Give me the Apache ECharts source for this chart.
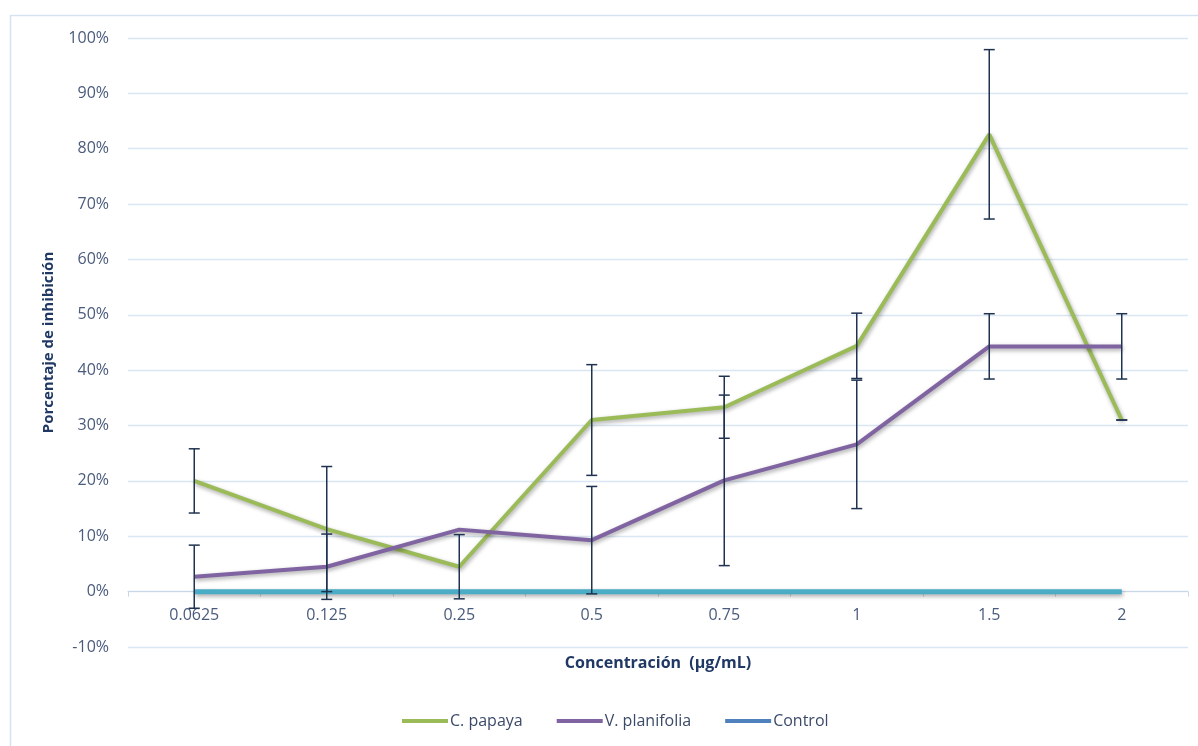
<!DOCTYPE html>
<html>
<head>
<meta charset="utf-8">
<script src="https://cdn.jsdelivr.net/npm/echarts@6/dist/echarts.min.js"></script>
<style>html,body{margin:0;padding:0;background:#fff;}#c{width:1198px;height:746px;}</style>
</head>
<body>
<div id="c"></div>
<script>
const categories = ['0.0625', '0.125', '0.25', '0.5', '0.75', '1', '1.5', '2'];
const papaya = [20.0, 11.3, 4.5, 31.0, 33.3, 44.4, 82.6, 31.0];
const papayaErr = [5.8, 11.3, 5.8, 10.0, 5.6, 5.9, 15.3, 0];
const planifolia = [2.7, 4.5, 11.2, 9.3, 20.1, 26.6, 44.3, 44.3];
const planifoliaErr = [5.7, 5.9, null, 9.7, 15.4, 11.6, 5.9, 5.9];
const control = [0, 0, 0, 0, 0, 0, 0, 0];
const yTicks = { min: -10, max: 100, step: 10 };

const chart = echarts.init(document.getElementById('c'));
const labelColor = '#4a5b7c';
const titleColor = '#1f3864';
const font = 'Open Sans';
const shadow = { shadowColor: 'rgba(0,0,0,0.35)', shadowBlur: 4, shadowOffsetX: 1, shadowOffsetY: 2 };

// grid geometry
const gridTop = 38, gridBottom = 99, chartH = 746;
const plotH = chartH - gridTop - gridBottom;
const zeroFromBottom = plotH * (0 - yTicks.min) / (yTicks.max - yTicks.min);

function errSeries(name, vals, errs) {
  return {
    name: name + ' err',
    type: 'custom',
    z: 10,
    silent: true,
    data: vals.map((v, i) => [i, v, errs[i]]),
    renderItem: function (params, api) {
      const e = api.value(2);
      if (e === null || e === undefined || isNaN(e)) return null;
      const i = api.value(0), v = api.value(1);
      const top = api.coord([i, v + e]);
      const bot = api.coord([i, v - e]);
      const hw = 5.5;
      const st = { stroke: '#1f3350', lineWidth: 1.5 };
      return {
        type: 'group',
        children: [
          { type: 'line', shape: { x1: top[0], y1: top[1], x2: bot[0], y2: bot[1] }, style: st },
          { type: 'line', shape: { x1: top[0] - hw, y1: top[1], x2: top[0] + hw, y2: top[1] }, style: st },
          { type: 'line', shape: { x1: bot[0] - hw, y1: bot[1], x2: bot[0] + hw, y2: bot[1] }, style: st }
        ]
      };
    }
  };
}

chart.setOption({
  animation: false,
  backgroundColor: '#fff',
  graphic: [{
    type: 'rect', left: 8, top: 13, z: -10,
    shape: { width: 1200, height: 740 },
    style: { fill: 'none', stroke: '#d6e2f1', lineWidth: 1.5 }
  }],
  grid: { left: 128, right: 10, top: gridTop, bottom: gridBottom },
  legend: {
    top: 708,
    left: 397,
    icon: 'rect',
    itemWidth: 46,
    itemHeight: 4,
    itemGap: 34,
    textStyle: { color: '#3c4a6a', fontFamily: font, fontSize: 16, padding: [0, 0, 0, -3] },
    data: [
      { name: 'C. papaya' },
      { name: 'V. planifolia' },
      { name: 'Control', itemStyle: { color: '#4f81bd' } }
    ]
  },
  xAxis: {
    type: 'category',
    data: categories,
    boundaryGap: true,
    offset: -zeroFromBottom,
    name: 'Concentración  (µg/mL)',
    nameLocation: 'middle',
    nameGap: 64,
    nameTextStyle: { color: titleColor, fontFamily: font, fontSize: 16, fontWeight: 'bold' },
    axisLine: { onZero: false, lineStyle: { color: '#c9d6e8', width: 1 } },
    axisTick: { show: true, interval: 0, length: 5, lineStyle: { color: '#c9d6e8' } },
    axisLabel: { color: labelColor, fontFamily: font, fontSize: 16, margin: 16 },
    splitLine: { show: false }
  },
  yAxis: {
    type: 'value',
    min: yTicks.min, max: yTicks.max, interval: yTicks.step,
    name: 'Porcentaje de inhibición',
    nameLocation: 'middle',
    nameGap: 72,
    nameTextStyle: { color: titleColor, fontFamily: font, fontSize: 15, fontWeight: 'bold' },
    axisLine: { show: false },
    axisTick: { show: false },
    axisLabel: { color: labelColor, fontFamily: font, fontSize: 16, margin: 19, formatter: v => v + '%' },
    splitLine: { lineStyle: { color: '#dbe6f4', width: 1.3 } }
  },
  series: [
    {
      name: 'C. papaya', type: 'line', data: papaya, symbol: 'none', z: 3,
      itemStyle: { color: '#9bbb59' },
      lineStyle: Object.assign({ color: '#9bbb59', width: 4 }, shadow)
    },
    {
      name: 'V. planifolia', type: 'line', data: planifolia, symbol: 'none', z: 3,
      itemStyle: { color: '#8064a2' },
      lineStyle: Object.assign({ color: '#8064a2', width: 4 }, shadow)
    },
    {
      name: 'Control', type: 'line', data: control, symbol: 'none', z: 4,
      itemStyle: { color: '#4bacc6' },
      lineStyle: Object.assign({ color: '#4bacc6', width: 5 }, shadow)
    },
    errSeries('C. papaya', papaya, papayaErr),
    errSeries('V. planifolia', planifolia, planifoliaErr)
  ]
});
</script>
</body>
</html>
